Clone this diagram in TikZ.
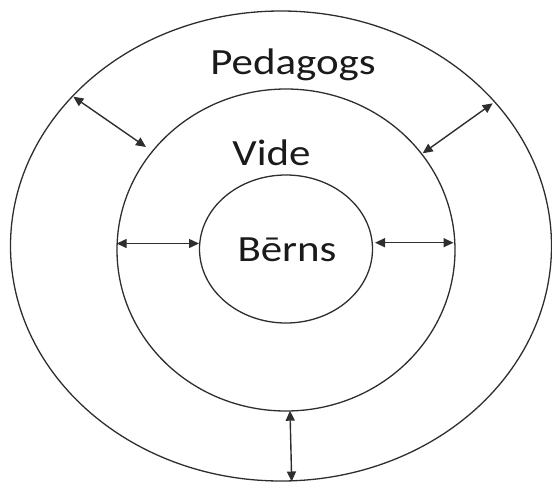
\documentclass[tikz,border=0pt]{standalone}
\usepackage{fontspec}
\setmainfont{Carlito}
\usetikzlibrary{arrows.meta,shapes.geometric}
\definecolor{linec}{HTML}{2E2E2E}
\definecolor{textc}{HTML}{1A1A1A}
\tikzset{
  ring/.style={draw=linec, line width=1.3pt, ellipse, inner sep=0pt},
  lbl/.style={text=textc, anchor=base, inner sep=0pt, font=\fontsize{37}{44}\selectfont},
  link/.style={draw=linec, line width=1.4pt, {Triangle[length=10pt,width=9pt]}-{Triangle[length=10pt,width=9pt]}}
}
\newcommand{\wide}[1]{\scalebox{1.16}[1]{#1}}
\begin{document}
\begin{tikzpicture}[x=1pt,y=-1pt]
\useasboundingbox (0,0) rectangle (552,485);
% rings
\node[ring, minimum width=541pt, minimum height=470pt] (outer) at (281,246) {};
\node[ring, minimum width=338pt, minimum height=322pt] (middle) at (286,250) {};
\node[ring, minimum width=173pt, minimum height=148pt] (inner) at (286,249) {};
% labels
\node[lbl] (ped) at (293,74.5) {\wide{Pedagogs}};
\node[lbl] (vide) at (271.5,165.5) {\wide{Vide}};
\node[lbl] (berns) at (287,261) {\wide{Bērns}};
% connector end points
\coordinate (ulA) at (73.3,96.7);
\coordinate (ulB) at (146,147);
\coordinate (urA) at (492.7,103.3);
\coordinate (urB) at (422.7,153.3);
\coordinate (lA) at (116.7,243.5);
\coordinate (lB) at (199,243.5);
\coordinate (rA) at (375,242.7);
\coordinate (rB) at (453.5,242.7);
\coordinate (bA) at (290,410.7);
\coordinate (bB) at (291.7,481.5);
% connectors
\draw[link] (ulA) -- (ulB);
\draw[link] (urA) -- (urB);
\draw[link] (lA) -- (lB);
\draw[link] (rA) -- (rB);
\draw[link] (bA) -- (bB);
\end{tikzpicture}
\end{document}
